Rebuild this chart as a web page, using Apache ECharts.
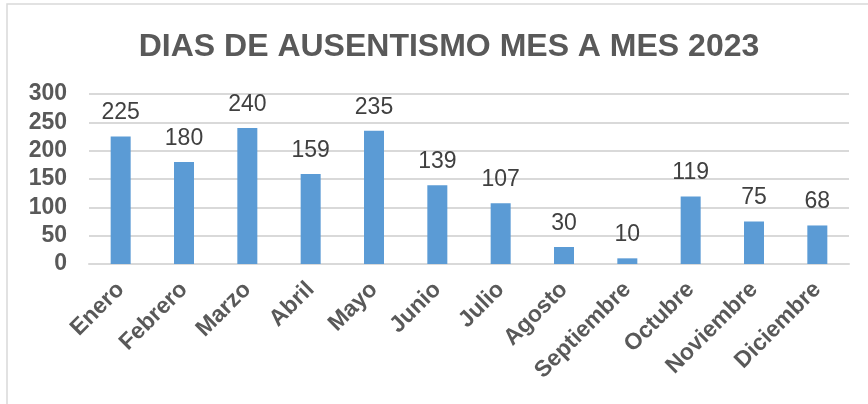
<!DOCTYPE html>
<html>
<head>
<meta charset="utf-8">
<script src="https://cdn.jsdelivr.net/npm/echarts@6/dist/echarts.min.js"></script>
<style>
  html, body { margin: 0; padding: 0; background: #fff; }
  #main { width: 868px; height: 404px; }
</style>
</head>
<body>
<div id="main"></div>
<script>
// datos del gráfico
var meses = ['Enero', 'Febrero', 'Marzo', 'Abril', 'Mayo', 'Junio', 'Julio',
  'Agosto', 'Septiembre', 'Octubre', 'Noviembre', 'Diciembre'];
var dias = [225, 180, 240, 159, 235, 139, 107, 30, 10, 119, 75, 68];
var titulo = 'DIAS DE AUSENTISMO MES A MES 2023';

var fuente = '"Liberation Sans", Arial, sans-serif';
var myChart = echarts.init(document.getElementById('main'));

var option = {
  backgroundColor: '#ffffff',
  animation: false,
  title: {
    text: titulo,
    left: 444,
    top: 26,
    textAlign: 'center',
    textStyle: {
      fontFamily: fuente,
      fontSize: 32,
      fontWeight: 'bold',
      color: '#595959'
    }
  },
  // marco del gráfico
  graphic: [{
    type: 'rect',
    shape: { x: 7, y: 4, width: 1000, height: 1000 },
    style: { fill: 'none', stroke: '#d9d9d9', lineWidth: 1.5 },
    silent: true
  }],
  grid: {
    left: 89,
    right: 19,
    top: 94,
    bottom: 140
  },
  xAxis: {
    type: 'category',
    data: meses,
    axisTick: { show: false },
    axisLine: { lineStyle: { color: '#d9d9d9', width: 2 } },
    axisLabel: {
      rotate: 45,
      interval: 0,
      margin: 22,
      fontFamily: fuente,
      fontSize: 23,
      fontWeight: 'bold',
      color: '#595959'
    }
  },
  yAxis: {
    type: 'value',
    min: 0,
    max: 300,
    interval: 50,
    axisLine: { show: false },
    axisTick: { show: false },
    splitLine: { lineStyle: { color: '#d9d9d9', width: 2 } },
    axisLabel: {
      margin: 22,
      fontFamily: fuente,
      fontSize: 23,
      fontWeight: 'bold',
      color: '#595959'
    }
  },
  series: [{
    type: 'bar',
    data: dias,
    barWidth: 20,
    itemStyle: { color: '#5b9bd5' },
    label: {
      show: true,
      position: 'top',
      distance: 12,
      fontFamily: fuente,
      fontSize: 23,
      color: '#404040'
    }
  }]
};

myChart.setOption(option);
</script>
</body>
</html>
